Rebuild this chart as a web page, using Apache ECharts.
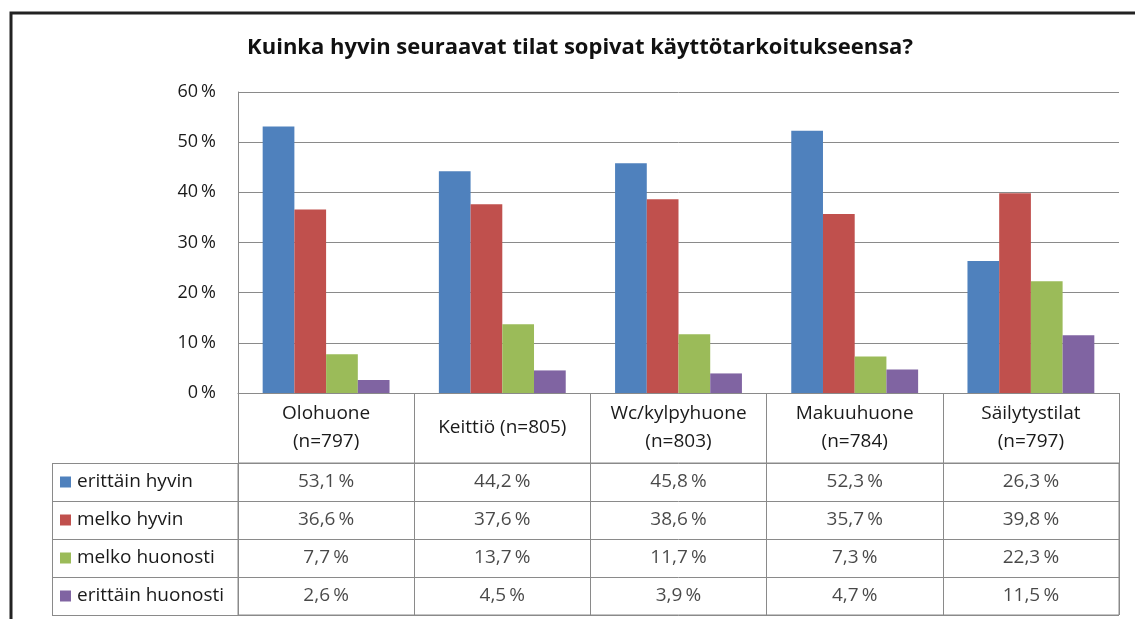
<!DOCTYPE html>
<html>
<head>
<meta charset="utf-8">
<script src="https://cdn.jsdelivr.net/npm/echarts@6/dist/echarts.min.js"></script>
<style>
  html, body { margin: 0; padding: 0; background: #fff; }
  #chart { width: 1135px; height: 619px; }
</style>
</head>
<body>
<div id="chart"></div>
<script>
// room types (x categories) and answer groups (series)
var categories = ['Olohuone\n(n=797)', 'Keittiö (n=805)', 'Wc/kylpyhuone\n(n=803)', 'Makuuhuone\n(n=784)', 'Säilytystilat\n(n=797)'];
var seriesNames = ['erittäin hyvin', 'melko hyvin', 'melko huonosti', 'erittäin huonosti'];

var erittainHyvin = [53.1, 44.2, 45.8, 52.3, 26.3];
var melkoHyvin = [36.6, 37.6, 38.6, 35.7, 39.8];
var melkoHuonosti = [7.7, 13.7, 11.7, 7.3, 22.3];
var erittainHuonosti = [2.6, 4.5, 3.9, 4.7, 11.5];

var colors = ['#4F81BD', '#C0504D', '#9BBB59', '#8064A2'];
var font = '"Open Sans", "Noto Sans", sans-serif';
var lineColor = '#8a8a8a';
var textColor = '#1a1a1a';

var allValues = [erittainHyvin, melkoHyvin, melkoHuonosti, erittainHuonosti];

function pct(v) {
    return v.toFixed(1).replace('.', ',') + '\u2009%';
}

// data table cells: [column, row, value]
var tableCells = [];
allValues.forEach(function (arr, r) {
    arr.forEach(function (v, c) {
        tableCells.push([c, r, v]);
    });
});

var legendRich = {};
colors.forEach(function (c, i) {
    legendRich['s' + i] = { width: 11, height: 11, backgroundColor: c };
});
legendRich.t = { fontSize: 19, fontFamily: font, color: textColor, padding: [0, 0, 0, 6] };

var chartDom = document.getElementById('chart');
var chart = echarts.init(chartDom);
var option;

option = {
    animation: false,
    backgroundColor: '#fff',
    title: {
        text: 'Kuinka hyvin seuraavat tilat sopivat käyttötarkoitukseensa?',
        left: 575,
        textAlign: 'center',
        top: 32,
        textStyle: { fontFamily: font, fontSize: 22, fontWeight: 'bold', color: '#111' }
    },
    grid: [
        { left: 238, right: 16, top: 92, bottom: 226 },
        { left: 238, right: 16, top: 463, bottom: 4, show: true, borderColor: lineColor, borderWidth: 1 }
    ],
    xAxis: [
        {
            type: 'category',
            gridIndex: 0,
            data: categories,
            axisLine: { lineStyle: { color: lineColor } },
            axisTick: { show: true, interval: 0, length: 70, lineStyle: { color: lineColor } },
            axisLabel: {
                interval: 0, margin: 35, verticalAlign: 'middle',
                fontSize: 19, lineHeight: 28,
                fontFamily: font, color: textColor
            }
        },
        {
            type: 'category',
            gridIndex: 1,
            data: categories,
            axisLine: { show: false },
            axisTick: { show: false },
            axisLabel: { show: false },
            splitLine: { show: true, interval: 0, lineStyle: { color: lineColor } }
        }
    ],
    yAxis: [
        {
            type: 'value',
            gridIndex: 0,
            min: 0, max: 60, interval: 10,
            axisLine: { show: true, lineStyle: { color: lineColor } },
            axisTick: { show: false },
            splitLine: { lineStyle: { color: lineColor } },
            axisLabel: {
                margin: 22, fontSize: 18, fontFamily: font, color: textColor,
                formatter: function (v) { return v + '\u2009%'; }
            }
        },
        {
            type: 'category',
            gridIndex: 1,
            inverse: true,
            data: seriesNames,
            axisLine: { show: false },
            axisTick: { show: true, interval: 0, length: 186, lineStyle: { color: lineColor } },
            splitLine: { show: true, interval: 0, lineStyle: { color: lineColor } },
            axisLabel: {
                interval: 0, align: 'left', margin: 178,
                rich: legendRich,
                formatter: function (v, i) { return '{s' + i + '|}{t|' + v + '}'; }
            }
        }
    ],
    series: seriesNames.map(function (name, i) {
        return {
            name: name,
            type: 'bar',
            xAxisIndex: 0,
            yAxisIndex: 0,
            data: allValues[i],
            barGap: '0%',
            barCategoryGap: '28%',
            itemStyle: { color: colors[i] }
        };
    }).concat([{
        name: 'table',
        type: 'scatter',
        xAxisIndex: 1,
        yAxisIndex: 1,
        symbolSize: 0,
        data: tableCells,
        label: {
            show: true, position: 'inside', fontSize: 19, fontFamily: font, color: textColor,
            formatter: function (p) { return pct(p.value[2]); }
        }
    }]),
    graphic: [
        {
            type: 'polyline',
            shape: { points: [[11, 619], [11, 13], [1135, 13]] },
            style: { stroke: '#222', lineWidth: 3, fill: null }
        },
        {
            type: 'line',
            shape: { x1: 52.5, y1: 463, x2: 52.5, y2: 615 },
            style: { stroke: lineColor, lineWidth: 1 }
        }
    ]
};

option && chart.setOption(option);
</script>
</body>
</html>
